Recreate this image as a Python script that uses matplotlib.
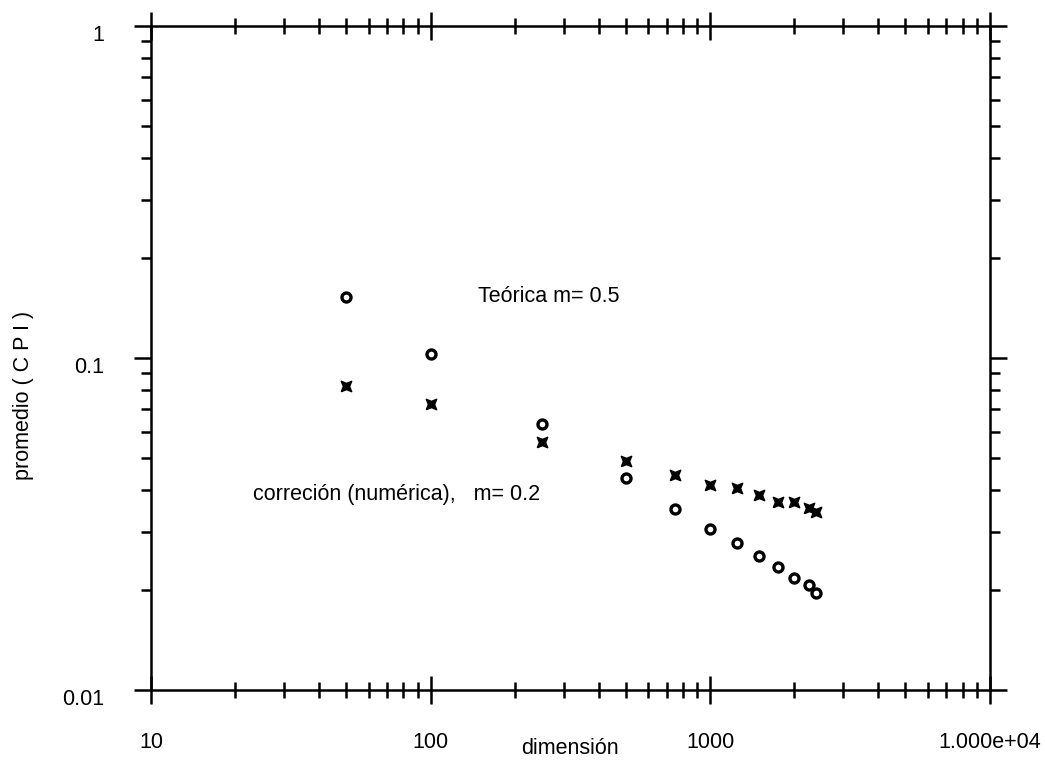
import numpy as np
import matplotlib
matplotlib.use("Agg")
import matplotlib.pyplot as plt
from matplotlib.ticker import FixedLocator, NullFormatter, LogLocator
import matplotlib.transforms as mtransforms

plt.rcParams['font.family'] = ['Liberation Sans', 'DejaVu Sans']

# dimension values (x)
dim = [50, 100, 250, 500, 750, 1000, 1250, 1500, 1750, 2000, 2250, 2400]

# Teorica m=0.5 (open circles)
cpi_teorica = [0.153, 0.103, 0.0633, 0.0435, 0.0351, 0.0305, 0.0277,
               0.0253, 0.0235, 0.0217, 0.0207, 0.0196]

# correcion (numerica) m=0.2 (star markers)
cpi_numerica = [0.0824, 0.0727, 0.0558, 0.049, 0.0444, 0.0414, 0.0406,
                0.0387, 0.0368, 0.0368, 0.0353, 0.0344]

xtick_vals = [10, 100, 1000, 10000]
xtick_labels = ["10", "100", "1000", "1.000e+04"]
ytick_vals = [0.01, 0.1, 1]
ytick_labels = ["0.01", "0.1", "1"]

# square with notched sides, like the printed symbol
star = [(-1, -1), (0, -0.6), (1, -1), (0.6, 0), (1, 1), (0, 0.6),
        (-1, 1), (-0.6, 0), (-1, -1)]

fig = plt.figure(figsize=(10.45, 7.63), dpi=100)
ax = fig.add_axes([0.1445, 0.0957, 0.8025, 0.8702])

ax.plot(dim, cpi_teorica, linestyle='none', marker='o', markersize=6.5,
        markerfacecolor='white', markeredgecolor='black', markeredgewidth=2.4)
ax.plot(dim, cpi_numerica, linestyle='none', marker=star, markersize=7.5,
        color='black', markeredgewidth=1)

ax.set_xscale('log')
ax.set_yscale('log')
ax.set_xlim(10, 10000)
ax.set_ylim(0.01, 1)

ax.xaxis.set_major_locator(FixedLocator(xtick_vals))
ax.set_xticklabels(xtick_labels)
ax.xaxis.set_minor_locator(LogLocator(base=10, subs=np.arange(2, 10)))
ax.xaxis.set_minor_formatter(NullFormatter())
ax.yaxis.set_major_locator(FixedLocator(ytick_vals))
ax.set_yticklabels(ytick_labels)
ax.yaxis.set_minor_locator(LogLocator(base=10, subs=np.arange(2, 10)))
ax.yaxis.set_minor_formatter(NullFormatter())

for s in ax.spines.values():
    s.set_linewidth(1.8)

ax.tick_params(axis='x', which='both', direction='inout', top=True,
               bottom=True, width=1.8, labelsize=15.5, pad=20)
ax.tick_params(axis='x', which='major', length=20)
ax.tick_params(axis='x', which='minor', length=11)
ax.tick_params(axis='y', which='both', direction='out', left=True,
               right=True, width=1.8, labelsize=15.5, pad=22)
ax.tick_params(axis='y', which='major', length=12)
ax.tick_params(axis='y', which='minor', length=7)

# labels sit a little below their ticks in the original
off = mtransforms.ScaledTranslation(0, -7 / 100, fig.dpi_scale_trans)
for lbl in ax.get_yticklabels():
    lbl.set_transform(lbl.get_transform() + off)

ax.text(0.390, 0.584, "Teórica m= 0.5", transform=ax.transAxes,
        fontsize=15.5, va='baseline', ha='left')
ax.text(0.122, 0.286, "correción (numérica),   m= 0.2", transform=ax.transAxes,
        fontsize=15.5, va='baseline', ha='left')

ax.set_xlabel("dimensión", fontsize=15.5)
ax.xaxis.set_label_coords(0.5, -0.072)
ax.set_ylabel("promedio ( C P I )", fontsize=15.5)
ax.yaxis.set_label_coords(-0.14, 0.443)

fig.savefig("out.png", dpi=100)
